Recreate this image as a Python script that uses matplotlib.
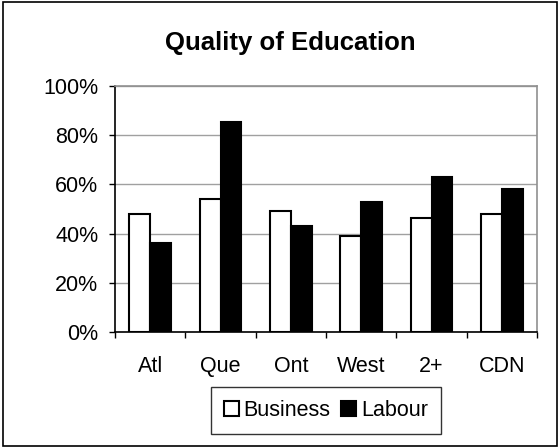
import matplotlib.pyplot as plt
import numpy as np
from matplotlib.patches import Rectangle
from matplotlib.ticker import PercentFormatter

plt.rcParams['font.family'] = ['Liberation Sans', 'DejaVu Sans']

regions = ["Atl", "Que", "Ont", "West", "2+", "CDN"]
business = [48, 54, 49, 39, 46.5, 48]
labour = [36, 85.5, 43, 53, 63, 58]

fig = plt.figure(figsize=(5.6, 4.48), dpi=100)
ax = fig.add_axes([0.2054, 0.259, 0.7536, 0.549])

x = np.arange(len(regions))
w = 0.295
ax.bar(x - w / 2, business, w, color="white", edgecolor="black", linewidth=1.5, label="Business", zorder=3)
ax.bar(x + w / 2, labour, w, color="black", edgecolor="black", linewidth=1.5, label="Labour", zorder=3)

ax.set_xlim(-0.5, len(regions) - 0.5)
ax.set_ylim(0, 100)
ax.set_yticks(range(0, 101, 20))
ax.yaxis.set_major_formatter(PercentFormatter(decimals=0))
ax.grid(axis="y", color="#a0a0a0", linewidth=1, zorder=0)

ax.set_xticks(x)
ax.set_xticklabels(regions)
ax.set_xticks(np.arange(-0.5, len(regions)), minor=True)
ax.tick_params(axis="x", which="major", length=0, pad=17, labelsize=15.5)
ax.tick_params(axis="x", which="minor", length=4, width=1, direction="out")
ax.tick_params(axis="y", length=4, width=1, direction="out", labelsize=15.5, pad=8)

for s in ["top", "right"]:
    ax.spines[s].set_color("#909090")
    ax.spines[s].set_linewidth(1.2)
for s in ["left", "bottom"]:
    ax.spines[s].set_color("black")
    ax.spines[s].set_linewidth(1.2)

fig.text(0.518, 0.904, "Quality of Education", ha="center", va="center",
         fontsize=18.5, fontweight="bold")

leg = ax.legend(loc="center", bbox_to_anchor=(0.5, -0.318), ncol=2, frameon=True,
                fancybox=False, edgecolor="black", fontsize=15.5,
                handlelength=0.7, handleheight=0.7, handletextpad=0.2,
                columnspacing=0.5, borderpad=0.6)
leg.get_frame().set_linewidth(1)

fig.patches.append(Rectangle((0.005, 0.005), 0.99, 0.99, transform=fig.transFigure,
                             fill=False, edgecolor="black", linewidth=1.2))

fig.savefig("out.png", dpi=100)
